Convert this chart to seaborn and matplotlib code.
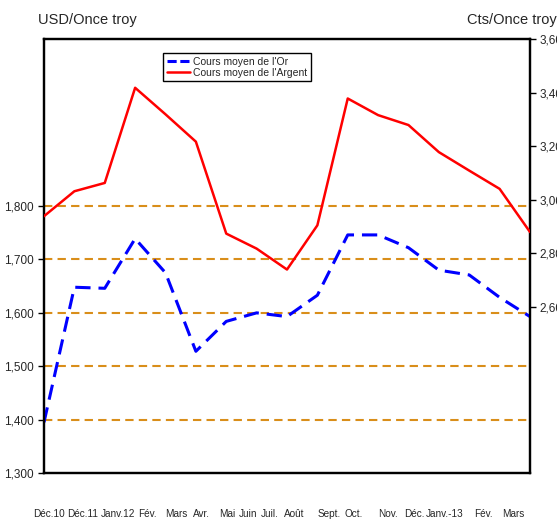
import numpy as np
import pandas as pd
import matplotlib
matplotlib.use("Agg")
import matplotlib.pyplot as plt
import seaborn as sns
from matplotlib.lines import Line2D

months = ["Déc.10", "Déc.11", "Janv.12", "Fév.", "Mars", "Avr.", "Mai", "Juin",
          "Juil.", "Août", "Sept.", "Oct.", "Nov.", "Déc.", "Janv.-13", "Fév.", "Mars"]
gold = [1395, 1648, 1646, 1739, 1675, 1528, 1584, 1600, 1593, 1633, 1746, 1746,
        1722, 1680, 1671, 1629, 1593]
silver = [2939, 3032, 3063, 3418, 3319, 3217, 2874, 2818, 2740, 2905, 3378, 3316,
          3279, 3178, 3109, 3041, 2880]
left_ticks = [1300, 1400, 1500, 1600, 1700, 1800]
grid_vals = [1400, 1500, 1600, 1700, 1800]
right_ticks = [2600, 2800, 3000, 3200, 3400, 3600]
# label anchor positions (in category units) as laid out under the axis
label_pos = [0.16, 1.28, 2.44, 3.42, 4.35, 5.2, 6.03, 6.72, 7.44, 8.23,
             9.38, 10.21, 11.33, 12.18, 13.2, 14.46, 15.44]

sns.set_style("white")
regular = ["Liberation Sans", "DejaVu Sans"]
plt.rcParams["font.family"] = regular

df = pd.DataFrame({"idx": np.arange(len(months)), "gold": gold, "silver": silver})

fig = plt.figure(figsize=(5.57, 5.24), dpi=100)
ax = fig.add_axes([0.079, 0.0973, 0.8725, 0.8283])
ax2 = ax.twinx()

for g in grid_vals:
    ax.axhline(g, color="#D98E1A", lw=1.5, ls=(0, (4, 2.5)), zorder=1)

sns.lineplot(data=df, x="idx", y="gold", ax=ax, color="#0000FF", lw=2.2,
             linestyle=(0, (5, 2.6)), zorder=3)
sns.lineplot(data=df, x="idx", y="silver", ax=ax2, color="#FF0000", lw=1.8, zorder=3)

ax.set_xlim(0, len(months) - 1)
ax.set_ylim(1300, 2113)
ax2.set_ylim(1981, 3600)

ax.set_yticks(left_ticks)
ax.set_yticklabels([f"{v:,}" for v in left_ticks], fontsize=8.5)
ax2.set_yticks(right_ticks)
ax2.set_yticklabels([f"{v:,}" for v in right_ticks], fontsize=8.5)
ax.tick_params(axis="y", direction="out", length=4.5, width=1, color="black", pad=3, left=True)
ax2.tick_params(axis="y", direction="out", length=4, width=1, color="black", pad=3, right=True)

ax.set_xticks(label_pos)
ax.set_xticklabels(months, fontsize=7.2)
ax.tick_params(axis="x", length=0, pad=26)

ax.set_xlabel("")
ax.set_ylabel("")
ax2.set_ylabel("")

for a in (ax, ax2):
    for s in a.spines.values():
        s.set_visible(True)
        s.set_color("black")
        s.set_linewidth(1.6)

fig.text(0.068, 0.962, "USD/Once troy", fontsize=10.5, ha="left", va="center")
fig.text(1.0, 0.962, "Cts/Once troy", fontsize=10.5, ha="right", va="center")

handles = [Line2D([], [], color="#0000FF", lw=2.2, ls=(0, (3, 1.2))),
           Line2D([], [], color="#FF0000", lw=1.8)]
leg = ax2.legend(handles, ["Cours moyen de l'Or", "Cours moyen de l'Argent"],
                 loc="upper left", bbox_to_anchor=(0.245, 0.968), fontsize=7.5,
                 frameon=True, fancybox=False, edgecolor="black", framealpha=1,
                 handlelength=2.2, handletextpad=0.3, borderpad=0.35,
                 labelspacing=0.1, borderaxespad=0)
leg.get_frame().set_linewidth(1.0)

fig.savefig("out.png", dpi=100)
